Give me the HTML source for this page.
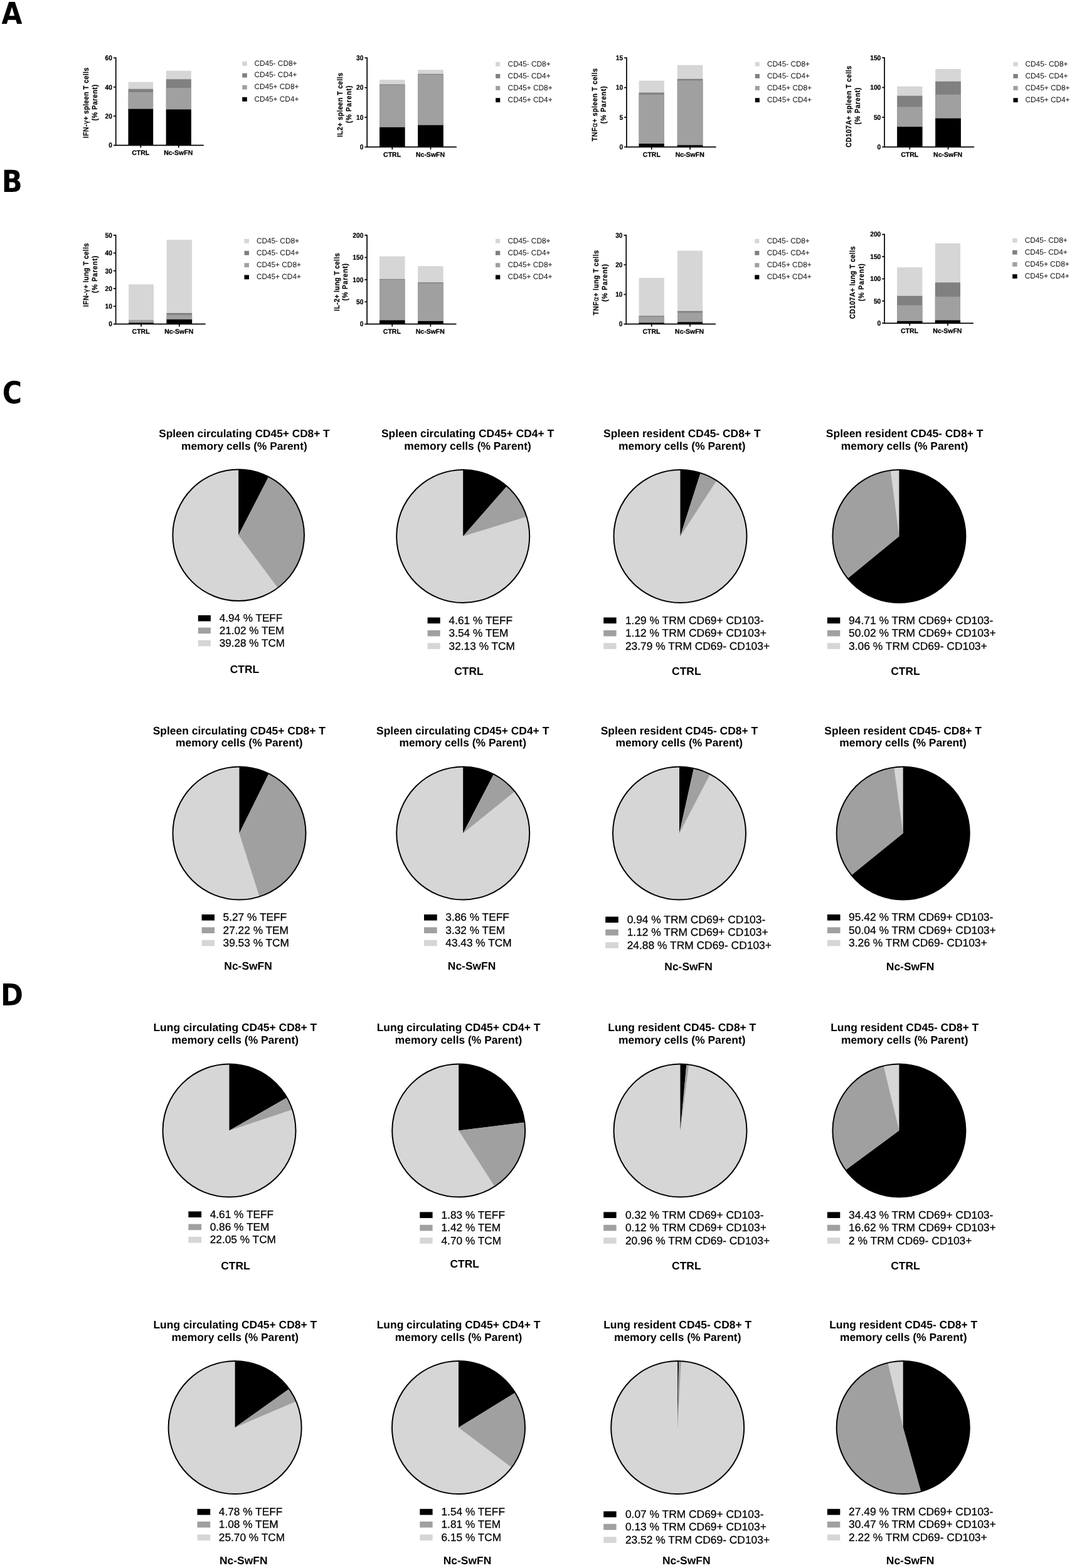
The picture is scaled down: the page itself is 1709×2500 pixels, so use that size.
<!DOCTYPE html>
<html lang="en">
<head>
<meta charset="utf-8">
<title>T cell cytokine and memory subsets</title>
<style>
html,body{margin:0;padding:0;background:#fff;}
body{width:1709px;height:2500px;overflow:hidden;}
svg{display:block;font-family:"Liberation Sans",sans-serif;}
svg text{white-space:pre;text-rendering:geometricPrecision;}
</style>
</head>
<body>
<svg width="1709" height="2500" viewBox="0 0 1709 2500">
<rect width="1709" height="2500" fill="#fff"/>
<text transform="translate(2.56,38.10) scale(0.9091,0.9220)" x="0" y="0" font-family="'DejaVu Sans Condensed','DejaVu Sans',sans-serif" font-size="52" font-weight="bold" fill="#000">A</text>
<text transform="translate(2.84,305.70) scale(0.9224,0.9299)" x="0" y="0" font-family="'DejaVu Sans Condensed','DejaVu Sans',sans-serif" font-size="52" font-weight="bold" fill="#000">B</text>
<text transform="translate(3.87,643.17) scale(0.9107,0.9342)" x="0" y="0" font-family="'DejaVu Sans Condensed','DejaVu Sans',sans-serif" font-size="52" font-weight="bold" fill="#000">C</text>
<text transform="translate(1.03,1603.30) scale(0.9249,0.9247)" x="0" y="0" font-family="'DejaVu Sans Condensed','DejaVu Sans',sans-serif" font-size="52" font-weight="bold" fill="#000">D</text>
<rect x="204.60" y="130.70" width="39.50" height="100.90" fill="#d6d6d6"/>
<rect x="204.60" y="141.80" width="39.50" height="89.80" fill="#808080"/>
<rect x="204.60" y="147.00" width="39.50" height="84.60" fill="#a0a0a0"/>
<rect x="204.60" y="173.70" width="39.50" height="57.90" fill="#000000"/>
<rect x="264.80" y="112.80" width="40.00" height="118.80" fill="#d6d6d6"/>
<rect x="264.80" y="126.30" width="40.00" height="105.30" fill="#808080"/>
<rect x="264.80" y="140.00" width="40.00" height="91.60" fill="#a0a0a0"/>
<rect x="264.80" y="174.50" width="40.00" height="57.10" fill="#000000"/>
<path d="M184.70 91.45V231.60H324.80" fill="none" stroke="#000" stroke-width="1.7" stroke-linejoin="miter"/>
<path d="M180.90 92.30H184.70" stroke="#000" stroke-width="1.7"/>
<text transform="translate(179.00,96.08) scale(0.93,1)" font-size="11.0" font-weight="bold" text-anchor="end" fill="#000" stroke="#000" stroke-width="0.2">60</text>
<path d="M180.90 138.73H184.70" stroke="#000" stroke-width="1.7"/>
<text transform="translate(179.00,142.52) scale(0.93,1)" font-size="11.0" font-weight="bold" text-anchor="end" fill="#000" stroke="#000" stroke-width="0.2">40</text>
<path d="M180.90 185.17H184.70" stroke="#000" stroke-width="1.7"/>
<text transform="translate(179.00,188.95) scale(0.93,1)" font-size="11.0" font-weight="bold" text-anchor="end" fill="#000" stroke="#000" stroke-width="0.2">20</text>
<path d="M180.90 231.60H184.70" stroke="#000" stroke-width="1.7"/>
<text transform="translate(179.00,235.38) scale(0.93,1)" font-size="11.0" font-weight="bold" text-anchor="end" fill="#000" stroke="#000" stroke-width="0.2">0</text>
<path d="M224.35 231.60V235.60" stroke="#000" stroke-width="1.7"/>
<text x="224.20" y="247.01" font-size="10.5" font-weight="bold" text-anchor="middle" fill="#000" stroke="#000" stroke-width="0.25">CTRL</text>
<path d="M284.80 231.60V235.60" stroke="#000" stroke-width="1.7"/>
<text x="284.20" y="247.01" font-size="10.5" font-weight="bold" text-anchor="middle" fill="#000" stroke="#000" stroke-width="0.25">Nc-SwFN</text>
<text transform="translate(141.13,164.00) rotate(-90) scale(0.9,1)" x="0" y="0" font-size="12.0" textLength="125.0" lengthAdjust="spacing" font-weight="bold" text-anchor="middle" fill="#000" stroke="#000" stroke-width="0.2">IFN-<tspan font-weight="normal" font-family="'DejaVu Sans','Liberation Sans',sans-serif" font-size="12.0">γ</tspan>+ spleen T cells</text>
<text transform="translate(155.33,163.80) rotate(-90) scale(0.9,1)" x="0" y="0" font-size="12.0" textLength="64.0" lengthAdjust="spacing" font-weight="bold" text-anchor="middle" fill="#000" stroke="#000" stroke-width="0.2">(% Parent)</text>
<rect x="386.20" y="98.05" width="7.60" height="6.90" fill="#d6d6d6"/>
<text transform="translate(405.40,104.70) scale(0.97,1)" font-size="12.2" fill="#111">CD45- CD8+</text>
<rect x="386.20" y="116.75" width="7.60" height="6.90" fill="#808080"/>
<text transform="translate(405.40,123.40) scale(0.97,1)" font-size="12.2" fill="#111">CD45- CD4+</text>
<rect x="386.20" y="135.75" width="7.60" height="6.90" fill="#a0a0a0"/>
<text transform="translate(405.40,142.40) scale(0.97,1)" font-size="12.2" fill="#111">CD45+ CD8+</text>
<rect x="386.20" y="154.85" width="7.60" height="6.90" fill="#000000"/>
<text transform="translate(405.40,161.50) scale(0.97,1)" font-size="12.2" fill="#111">CD45+ CD4+</text>
<rect x="605.10" y="127.20" width="40.40" height="107.20" fill="#d6d6d6"/>
<rect x="605.10" y="134.50" width="40.40" height="99.90" fill="#808080"/>
<rect x="605.10" y="135.60" width="40.40" height="98.80" fill="#a0a0a0"/>
<rect x="605.10" y="202.90" width="40.40" height="31.50" fill="#000000"/>
<rect x="666.20" y="111.30" width="40.60" height="123.10" fill="#d6d6d6"/>
<rect x="666.20" y="117.90" width="40.60" height="116.50" fill="#808080"/>
<rect x="666.20" y="119.00" width="40.60" height="115.40" fill="#a0a0a0"/>
<rect x="666.20" y="199.50" width="40.60" height="34.90" fill="#000000"/>
<path d="M585.20 91.45V234.40H727.90" fill="none" stroke="#000" stroke-width="1.7" stroke-linejoin="miter"/>
<path d="M581.40 92.30H585.20" stroke="#000" stroke-width="1.7"/>
<text transform="translate(579.50,96.08) scale(0.93,1)" font-size="11.0" font-weight="bold" text-anchor="end" fill="#000" stroke="#000" stroke-width="0.2">30</text>
<path d="M581.40 139.67H585.20" stroke="#000" stroke-width="1.7"/>
<text transform="translate(579.50,143.45) scale(0.93,1)" font-size="11.0" font-weight="bold" text-anchor="end" fill="#000" stroke="#000" stroke-width="0.2">20</text>
<path d="M581.40 187.03H585.20" stroke="#000" stroke-width="1.7"/>
<text transform="translate(579.50,190.82) scale(0.93,1)" font-size="11.0" font-weight="bold" text-anchor="end" fill="#000" stroke="#000" stroke-width="0.2">10</text>
<path d="M581.40 234.40H585.20" stroke="#000" stroke-width="1.7"/>
<text transform="translate(579.50,238.18) scale(0.93,1)" font-size="11.0" font-weight="bold" text-anchor="end" fill="#000" stroke="#000" stroke-width="0.2">0</text>
<path d="M625.30 234.40V238.40" stroke="#000" stroke-width="1.7"/>
<text x="625.10" y="249.81" font-size="10.5" font-weight="bold" text-anchor="middle" fill="#000" stroke="#000" stroke-width="0.25">CTRL</text>
<path d="M686.50 234.40V238.40" stroke="#000" stroke-width="1.7"/>
<text x="686.00" y="249.81" font-size="10.5" font-weight="bold" text-anchor="middle" fill="#000" stroke="#000" stroke-width="0.25">Nc-SwFN</text>
<text transform="translate(545.63,167.30) rotate(-90) scale(0.9,1)" x="0" y="0" font-size="12.0" textLength="113.9" lengthAdjust="spacing" font-weight="bold" text-anchor="middle" fill="#000" stroke="#000" stroke-width="0.2">IL2+ spleen T cells</text>
<text transform="translate(560.03,166.50) rotate(-90) scale(0.9,1)" x="0" y="0" font-size="12.0" textLength="66.3" lengthAdjust="spacing" font-weight="bold" text-anchor="middle" fill="#000" stroke="#000" stroke-width="0.2">(% Parent)</text>
<rect x="790.20" y="98.85" width="7.10" height="6.90" fill="#d6d6d6"/>
<text transform="translate(809.60,105.50) scale(0.97,1)" font-size="12.2" fill="#111">CD45- CD8+</text>
<rect x="790.20" y="117.95" width="7.10" height="6.90" fill="#808080"/>
<text transform="translate(809.60,124.60) scale(0.97,1)" font-size="12.2" fill="#111">CD45- CD4+</text>
<rect x="790.20" y="137.05" width="7.10" height="6.90" fill="#a0a0a0"/>
<text transform="translate(809.60,143.70) scale(0.97,1)" font-size="12.2" fill="#111">CD45+ CD8+</text>
<rect x="790.20" y="156.25" width="7.10" height="6.90" fill="#000000"/>
<text transform="translate(809.60,162.90) scale(0.97,1)" font-size="12.2" fill="#111">CD45+ CD4+</text>
<rect x="1018.60" y="128.60" width="40.30" height="105.80" fill="#d6d6d6"/>
<rect x="1018.60" y="147.60" width="40.30" height="86.80" fill="#808080"/>
<rect x="1018.60" y="150.70" width="40.30" height="83.70" fill="#a0a0a0"/>
<rect x="1018.60" y="229.10" width="40.30" height="5.30" fill="#000000"/>
<rect x="1079.80" y="103.70" width="40.60" height="130.70" fill="#d6d6d6"/>
<rect x="1079.80" y="125.80" width="40.60" height="108.60" fill="#808080"/>
<rect x="1079.80" y="128.30" width="40.60" height="106.10" fill="#a0a0a0"/>
<rect x="1079.80" y="231.40" width="40.60" height="3.00" fill="#000000"/>
<path d="M998.90 91.45V234.40H1141.60" fill="none" stroke="#000" stroke-width="1.7" stroke-linejoin="miter"/>
<path d="M995.10 92.30H998.90" stroke="#000" stroke-width="1.7"/>
<text transform="translate(993.20,96.08) scale(0.93,1)" font-size="11.0" font-weight="bold" text-anchor="end" fill="#000" stroke="#000" stroke-width="0.2">15</text>
<path d="M995.10 139.67H998.90" stroke="#000" stroke-width="1.7"/>
<text transform="translate(993.20,143.45) scale(0.93,1)" font-size="11.0" font-weight="bold" text-anchor="end" fill="#000" stroke="#000" stroke-width="0.2">10</text>
<path d="M995.10 187.03H998.90" stroke="#000" stroke-width="1.7"/>
<text transform="translate(993.20,190.82) scale(0.93,1)" font-size="11.0" font-weight="bold" text-anchor="end" fill="#000" stroke="#000" stroke-width="0.2">5</text>
<path d="M995.10 234.40H998.90" stroke="#000" stroke-width="1.7"/>
<text transform="translate(993.20,238.18) scale(0.93,1)" font-size="11.0" font-weight="bold" text-anchor="end" fill="#000" stroke="#000" stroke-width="0.2">0</text>
<path d="M1038.75 234.40V238.40" stroke="#000" stroke-width="1.7"/>
<text x="1038.80" y="249.81" font-size="10.5" font-weight="bold" text-anchor="middle" fill="#000" stroke="#000" stroke-width="0.25">CTRL</text>
<path d="M1100.10 234.40V238.40" stroke="#000" stroke-width="1.7"/>
<text x="1099.70" y="249.81" font-size="10.5" font-weight="bold" text-anchor="middle" fill="#000" stroke="#000" stroke-width="0.25">Nc-SwFN</text>
<text transform="translate(951.93,167.20) rotate(-90) scale(0.9,1)" x="0" y="0" font-size="12.0" textLength="129.2" lengthAdjust="spacing" font-weight="bold" text-anchor="middle" fill="#000" stroke="#000" stroke-width="0.2">TNF<tspan font-weight="normal" font-family="'DejaVu Sans','Liberation Sans',sans-serif" font-size="12.0">α</tspan>+ spleen T cells</text>
<text transform="translate(966.33,167.30) rotate(-90) scale(0.9,1)" x="0" y="0" font-size="12.0" textLength="66.3" lengthAdjust="spacing" font-weight="bold" text-anchor="middle" fill="#000" stroke="#000" stroke-width="0.2">(% Parent)</text>
<rect x="1203.80" y="98.85" width="7.10" height="6.90" fill="#d6d6d6"/>
<text transform="translate(1223.00,105.50) scale(0.97,1)" font-size="12.2" fill="#111">CD45- CD8+</text>
<rect x="1203.80" y="117.95" width="7.10" height="6.90" fill="#808080"/>
<text transform="translate(1223.00,124.60) scale(0.97,1)" font-size="12.2" fill="#111">CD45- CD4+</text>
<rect x="1203.80" y="137.05" width="7.10" height="6.90" fill="#a0a0a0"/>
<text transform="translate(1223.00,143.70) scale(0.97,1)" font-size="12.2" fill="#111">CD45+ CD8+</text>
<rect x="1203.80" y="156.25" width="7.10" height="6.90" fill="#000000"/>
<text transform="translate(1223.00,162.90) scale(0.97,1)" font-size="12.2" fill="#111">CD45+ CD4+</text>
<rect x="1430.20" y="137.80" width="40.20" height="96.60" fill="#d6d6d6"/>
<rect x="1430.20" y="152.70" width="40.20" height="81.70" fill="#808080"/>
<rect x="1430.20" y="170.40" width="40.20" height="64.00" fill="#a0a0a0"/>
<rect x="1430.20" y="202.10" width="40.20" height="32.30" fill="#000000"/>
<rect x="1491.20" y="110.00" width="40.60" height="124.40" fill="#d6d6d6"/>
<rect x="1491.20" y="129.80" width="40.60" height="104.60" fill="#808080"/>
<rect x="1491.20" y="150.80" width="40.60" height="83.60" fill="#a0a0a0"/>
<rect x="1491.20" y="188.70" width="40.60" height="45.70" fill="#000000"/>
<path d="M1410.00 91.25V234.40H1553.10" fill="none" stroke="#000" stroke-width="1.7" stroke-linejoin="miter"/>
<path d="M1406.20 92.10H1410.00" stroke="#000" stroke-width="1.7"/>
<text transform="translate(1404.30,95.88) scale(0.93,1)" font-size="11.0" font-weight="bold" text-anchor="end" fill="#000" stroke="#000" stroke-width="0.2">150</text>
<path d="M1406.20 139.53H1410.00" stroke="#000" stroke-width="1.7"/>
<text transform="translate(1404.30,143.32) scale(0.93,1)" font-size="11.0" font-weight="bold" text-anchor="end" fill="#000" stroke="#000" stroke-width="0.2">100</text>
<path d="M1406.20 186.97H1410.00" stroke="#000" stroke-width="1.7"/>
<text transform="translate(1404.30,190.75) scale(0.93,1)" font-size="11.0" font-weight="bold" text-anchor="end" fill="#000" stroke="#000" stroke-width="0.2">50</text>
<path d="M1406.20 234.40H1410.00" stroke="#000" stroke-width="1.7"/>
<text transform="translate(1404.30,238.18) scale(0.93,1)" font-size="11.0" font-weight="bold" text-anchor="end" fill="#000" stroke="#000" stroke-width="0.2">0</text>
<path d="M1450.30 234.40V238.40" stroke="#000" stroke-width="1.7"/>
<text x="1450.20" y="249.91" font-size="10.5" font-weight="bold" text-anchor="middle" fill="#000" stroke="#000" stroke-width="0.25">CTRL</text>
<path d="M1511.50 234.40V238.40" stroke="#000" stroke-width="1.7"/>
<text x="1511.10" y="249.91" font-size="10.5" font-weight="bold" text-anchor="middle" fill="#000" stroke="#000" stroke-width="0.25">Nc-SwFN</text>
<text transform="translate(1357.13,170.00) rotate(-90) scale(0.9,1)" x="0" y="0" font-size="12.0" textLength="144.4" lengthAdjust="spacing" font-weight="bold" text-anchor="middle" fill="#000" stroke="#000" stroke-width="0.2">CD107A+ spleen T cells</text>
<text transform="translate(1370.83,169.20) rotate(-90) scale(0.9,1)" x="0" y="0" font-size="12.0" textLength="65.4" lengthAdjust="spacing" font-weight="bold" text-anchor="middle" fill="#000" stroke="#000" stroke-width="0.2">(% Parent)</text>
<rect x="1615.40" y="98.85" width="7.30" height="6.90" fill="#d6d6d6"/>
<text transform="translate(1634.50,105.50) scale(0.97,1)" font-size="12.2" fill="#111">CD45- CD8+</text>
<rect x="1615.40" y="117.95" width="7.30" height="6.90" fill="#808080"/>
<text transform="translate(1634.50,124.60) scale(0.97,1)" font-size="12.2" fill="#111">CD45- CD4+</text>
<rect x="1615.40" y="137.05" width="7.30" height="6.90" fill="#a0a0a0"/>
<text transform="translate(1634.50,143.70) scale(0.97,1)" font-size="12.2" fill="#111">CD45+ CD8+</text>
<rect x="1615.40" y="156.25" width="7.30" height="6.90" fill="#000000"/>
<text transform="translate(1634.50,162.90) scale(0.97,1)" font-size="12.2" fill="#111">CD45+ CD4+</text>
<rect x="205.10" y="453.40" width="39.90" height="63.30" fill="#d6d6d6"/>
<rect x="205.10" y="510.10" width="39.90" height="6.60" fill="#a0a0a0"/>
<rect x="205.10" y="514.60" width="39.90" height="2.10" fill="#000000"/>
<rect x="265.60" y="382.30" width="40.50" height="134.40" fill="#d6d6d6"/>
<rect x="265.60" y="499.10" width="40.50" height="17.60" fill="#808080"/>
<rect x="265.60" y="502.20" width="40.50" height="14.50" fill="#a0a0a0"/>
<rect x="265.60" y="509.30" width="40.50" height="7.40" fill="#000000"/>
<path d="M184.60 374.25V516.70H327.60" fill="none" stroke="#000" stroke-width="1.7" stroke-linejoin="miter"/>
<path d="M180.80 375.10H184.60" stroke="#000" stroke-width="1.7"/>
<text transform="translate(178.90,378.88) scale(0.93,1)" font-size="11.0" font-weight="bold" text-anchor="end" fill="#000" stroke="#000" stroke-width="0.2">50</text>
<path d="M180.80 403.42H184.60" stroke="#000" stroke-width="1.7"/>
<text transform="translate(178.90,407.20) scale(0.93,1)" font-size="11.0" font-weight="bold" text-anchor="end" fill="#000" stroke="#000" stroke-width="0.2">40</text>
<path d="M180.80 431.74H184.60" stroke="#000" stroke-width="1.7"/>
<text transform="translate(178.90,435.52) scale(0.93,1)" font-size="11.0" font-weight="bold" text-anchor="end" fill="#000" stroke="#000" stroke-width="0.2">30</text>
<path d="M180.80 460.06H184.60" stroke="#000" stroke-width="1.7"/>
<text transform="translate(178.90,463.84) scale(0.93,1)" font-size="11.0" font-weight="bold" text-anchor="end" fill="#000" stroke="#000" stroke-width="0.2">20</text>
<path d="M180.80 488.38H184.60" stroke="#000" stroke-width="1.7"/>
<text transform="translate(178.90,492.16) scale(0.93,1)" font-size="11.0" font-weight="bold" text-anchor="end" fill="#000" stroke="#000" stroke-width="0.2">10</text>
<path d="M180.80 516.70H184.60" stroke="#000" stroke-width="1.7"/>
<text transform="translate(178.90,520.48) scale(0.93,1)" font-size="11.0" font-weight="bold" text-anchor="end" fill="#000" stroke="#000" stroke-width="0.2">0</text>
<path d="M225.05 516.70V520.70" stroke="#000" stroke-width="1.7"/>
<text x="224.60" y="531.61" font-size="10.5" font-weight="bold" text-anchor="middle" fill="#000" stroke="#000" stroke-width="0.25">CTRL</text>
<path d="M285.85 516.70V520.70" stroke="#000" stroke-width="1.7"/>
<text x="285.20" y="531.61" font-size="10.5" font-weight="bold" text-anchor="middle" fill="#000" stroke="#000" stroke-width="0.25">Nc-SwFN</text>
<text transform="translate(140.93,438.50) rotate(-90) scale(0.9,1)" x="0" y="0" font-size="12.0" textLength="112.7" lengthAdjust="spacing" font-weight="bold" text-anchor="middle" fill="#000" stroke="#000" stroke-width="0.2">IFN-<tspan font-weight="normal" font-family="'DejaVu Sans','Liberation Sans',sans-serif" font-size="12.0">γ</tspan>+ lung T cells</text>
<text transform="translate(154.83,437.60) rotate(-90) scale(0.9,1)" x="0" y="0" font-size="12.0" textLength="66.1" lengthAdjust="spacing" font-weight="bold" text-anchor="middle" fill="#000" stroke="#000" stroke-width="0.2">(% Parent)</text>
<rect x="389.50" y="380.85" width="7.50" height="6.90" fill="#d6d6d6"/>
<text transform="translate(408.90,387.50) scale(0.97,1)" font-size="12.2" fill="#111">CD45- CD8+</text>
<rect x="389.50" y="399.95" width="7.50" height="6.90" fill="#808080"/>
<text transform="translate(408.90,406.60) scale(0.97,1)" font-size="12.2" fill="#111">CD45- CD4+</text>
<rect x="389.50" y="419.35" width="7.50" height="6.90" fill="#a0a0a0"/>
<text transform="translate(408.90,426.00) scale(0.97,1)" font-size="12.2" fill="#111">CD45+ CD8+</text>
<rect x="389.50" y="438.45" width="7.50" height="6.90" fill="#000000"/>
<text transform="translate(408.90,445.10) scale(0.97,1)" font-size="12.2" fill="#111">CD45+ CD4+</text>
<rect x="605.00" y="408.70" width="40.50" height="108.00" fill="#d6d6d6"/>
<rect x="605.00" y="444.90" width="40.50" height="71.80" fill="#808080"/>
<rect x="605.00" y="445.90" width="40.50" height="70.80" fill="#a0a0a0"/>
<rect x="605.00" y="510.60" width="40.50" height="6.10" fill="#000000"/>
<rect x="666.10" y="424.30" width="40.60" height="92.40" fill="#d6d6d6"/>
<rect x="666.10" y="450.20" width="40.60" height="66.50" fill="#808080"/>
<rect x="666.10" y="451.70" width="40.60" height="65.00" fill="#a0a0a0"/>
<rect x="666.10" y="511.90" width="40.60" height="4.80" fill="#000000"/>
<path d="M585.10 374.25V516.70H727.50" fill="none" stroke="#000" stroke-width="1.7" stroke-linejoin="miter"/>
<path d="M581.30 375.10H585.10" stroke="#000" stroke-width="1.7"/>
<text transform="translate(579.40,378.88) scale(0.93,1)" font-size="11.0" font-weight="bold" text-anchor="end" fill="#000" stroke="#000" stroke-width="0.2">200</text>
<path d="M581.30 410.50H585.10" stroke="#000" stroke-width="1.7"/>
<text transform="translate(579.40,414.28) scale(0.93,1)" font-size="11.0" font-weight="bold" text-anchor="end" fill="#000" stroke="#000" stroke-width="0.2">150</text>
<path d="M581.30 445.90H585.10" stroke="#000" stroke-width="1.7"/>
<text transform="translate(579.40,449.68) scale(0.93,1)" font-size="11.0" font-weight="bold" text-anchor="end" fill="#000" stroke="#000" stroke-width="0.2">100</text>
<path d="M581.30 481.30H585.10" stroke="#000" stroke-width="1.7"/>
<text transform="translate(579.40,485.08) scale(0.93,1)" font-size="11.0" font-weight="bold" text-anchor="end" fill="#000" stroke="#000" stroke-width="0.2">50</text>
<path d="M581.30 516.70H585.10" stroke="#000" stroke-width="1.7"/>
<text transform="translate(579.40,520.48) scale(0.93,1)" font-size="11.0" font-weight="bold" text-anchor="end" fill="#000" stroke="#000" stroke-width="0.2">0</text>
<path d="M625.25 516.70V520.70" stroke="#000" stroke-width="1.7"/>
<text x="624.80" y="531.81" font-size="10.5" font-weight="bold" text-anchor="middle" fill="#000" stroke="#000" stroke-width="0.25">CTRL</text>
<path d="M686.40 516.70V520.70" stroke="#000" stroke-width="1.7"/>
<text x="685.80" y="531.81" font-size="10.5" font-weight="bold" text-anchor="middle" fill="#000" stroke="#000" stroke-width="0.25">Nc-SwFN</text>
<text transform="translate(540.63,449.80) rotate(-90) scale(0.9,1)" x="0" y="0" font-size="12.0" textLength="102.7" lengthAdjust="spacing" font-weight="bold" text-anchor="middle" fill="#000" stroke="#000" stroke-width="0.2">IL-2+ lung T cells</text>
<text transform="translate(554.43,449.80) rotate(-90) scale(0.9,1)" x="0" y="0" font-size="12.0" textLength="66.0" lengthAdjust="spacing" font-weight="bold" text-anchor="middle" fill="#000" stroke="#000" stroke-width="0.2">(% Parent)</text>
<rect x="790.00" y="380.85" width="7.30" height="6.90" fill="#d6d6d6"/>
<text transform="translate(809.40,387.50) scale(0.97,1)" font-size="12.2" fill="#111">CD45- CD8+</text>
<rect x="790.00" y="399.95" width="7.30" height="6.90" fill="#808080"/>
<text transform="translate(809.40,406.60) scale(0.97,1)" font-size="12.2" fill="#111">CD45- CD4+</text>
<rect x="790.00" y="419.35" width="7.30" height="6.90" fill="#a0a0a0"/>
<text transform="translate(809.40,426.00) scale(0.97,1)" font-size="12.2" fill="#111">CD45+ CD8+</text>
<rect x="790.00" y="438.45" width="7.30" height="6.90" fill="#000000"/>
<text transform="translate(809.40,445.10) scale(0.97,1)" font-size="12.2" fill="#111">CD45+ CD4+</text>
<rect x="1018.60" y="443.00" width="40.30" height="73.70" fill="#d6d6d6"/>
<rect x="1018.60" y="503.50" width="40.30" height="13.20" fill="#808080"/>
<rect x="1018.60" y="505.00" width="40.30" height="11.70" fill="#a0a0a0"/>
<rect x="1018.60" y="514.60" width="40.30" height="2.10" fill="#000000"/>
<rect x="1080.00" y="399.65" width="40.10" height="117.05" fill="#d6d6d6"/>
<rect x="1080.00" y="495.90" width="40.10" height="20.80" fill="#808080"/>
<rect x="1080.00" y="498.40" width="40.10" height="18.30" fill="#a0a0a0"/>
<rect x="1080.00" y="513.50" width="40.10" height="3.20" fill="#000000"/>
<path d="M998.25 374.25V516.70H1141.00" fill="none" stroke="#000" stroke-width="1.7" stroke-linejoin="miter"/>
<path d="M994.45 375.10H998.25" stroke="#000" stroke-width="1.7"/>
<text transform="translate(992.55,378.88) scale(0.93,1)" font-size="11.0" font-weight="bold" text-anchor="end" fill="#000" stroke="#000" stroke-width="0.2">30</text>
<path d="M994.45 422.30H998.25" stroke="#000" stroke-width="1.7"/>
<text transform="translate(992.55,426.08) scale(0.93,1)" font-size="11.0" font-weight="bold" text-anchor="end" fill="#000" stroke="#000" stroke-width="0.2">20</text>
<path d="M994.45 469.50H998.25" stroke="#000" stroke-width="1.7"/>
<text transform="translate(992.55,473.28) scale(0.93,1)" font-size="11.0" font-weight="bold" text-anchor="end" fill="#000" stroke="#000" stroke-width="0.2">10</text>
<path d="M994.45 516.70H998.25" stroke="#000" stroke-width="1.7"/>
<text transform="translate(992.55,520.48) scale(0.93,1)" font-size="11.0" font-weight="bold" text-anchor="end" fill="#000" stroke="#000" stroke-width="0.2">0</text>
<path d="M1038.75 516.70V520.70" stroke="#000" stroke-width="1.7"/>
<text x="1038.40" y="531.91" font-size="10.5" font-weight="bold" text-anchor="middle" fill="#000" stroke="#000" stroke-width="0.25">CTRL</text>
<path d="M1100.05 516.70V520.70" stroke="#000" stroke-width="1.7"/>
<text x="1099.10" y="531.91" font-size="10.5" font-weight="bold" text-anchor="middle" fill="#000" stroke="#000" stroke-width="0.25">Nc-SwFN</text>
<text transform="translate(953.73,450.90) rotate(-90) scale(0.9,1)" x="0" y="0" font-size="12.0" textLength="115.2" lengthAdjust="spacing" font-weight="bold" text-anchor="middle" fill="#000" stroke="#000" stroke-width="0.2">TNF<tspan font-weight="normal" font-family="'DejaVu Sans','Liberation Sans',sans-serif" font-size="12.0">α</tspan>+ lung T cells</text>
<text transform="translate(968.13,451.10) rotate(-90) scale(0.9,1)" x="0" y="0" font-size="12.0" textLength="66.3" lengthAdjust="spacing" font-weight="bold" text-anchor="middle" fill="#000" stroke="#000" stroke-width="0.2">(% Parent)</text>
<rect x="1203.30" y="380.85" width="7.10" height="6.90" fill="#d6d6d6"/>
<text transform="translate(1222.70,387.50) scale(0.97,1)" font-size="12.2" fill="#111">CD45- CD8+</text>
<rect x="1203.30" y="399.95" width="7.10" height="6.90" fill="#808080"/>
<text transform="translate(1222.70,406.60) scale(0.97,1)" font-size="12.2" fill="#111">CD45- CD4+</text>
<rect x="1203.30" y="419.35" width="7.10" height="6.90" fill="#a0a0a0"/>
<text transform="translate(1222.70,426.00) scale(0.97,1)" font-size="12.2" fill="#111">CD45+ CD8+</text>
<rect x="1203.30" y="438.45" width="7.10" height="6.90" fill="#000000"/>
<text transform="translate(1222.70,445.10) scale(0.97,1)" font-size="12.2" fill="#111">CD45+ CD4+</text>
<rect x="1430.10" y="426.30" width="40.30" height="89.00" fill="#d6d6d6"/>
<rect x="1430.10" y="471.80" width="40.30" height="43.50" fill="#808080"/>
<rect x="1430.10" y="486.70" width="40.30" height="28.60" fill="#a0a0a0"/>
<rect x="1430.10" y="511.90" width="40.30" height="3.40" fill="#000000"/>
<rect x="1490.80" y="388.00" width="40.20" height="127.30" fill="#d6d6d6"/>
<rect x="1490.80" y="450.40" width="40.20" height="64.90" fill="#808080"/>
<rect x="1490.80" y="473.10" width="40.20" height="42.20" fill="#a0a0a0"/>
<rect x="1490.80" y="510.60" width="40.20" height="4.70" fill="#000000"/>
<path d="M1410.00 372.85V515.30H1551.90" fill="none" stroke="#000" stroke-width="1.7" stroke-linejoin="miter"/>
<path d="M1406.20 373.70H1410.00" stroke="#000" stroke-width="1.7"/>
<text transform="translate(1404.30,377.48) scale(0.93,1)" font-size="11.0" font-weight="bold" text-anchor="end" fill="#000" stroke="#000" stroke-width="0.2">200</text>
<path d="M1406.20 409.10H1410.00" stroke="#000" stroke-width="1.7"/>
<text transform="translate(1404.30,412.88) scale(0.93,1)" font-size="11.0" font-weight="bold" text-anchor="end" fill="#000" stroke="#000" stroke-width="0.2">150</text>
<path d="M1406.20 444.50H1410.00" stroke="#000" stroke-width="1.7"/>
<text transform="translate(1404.30,448.28) scale(0.93,1)" font-size="11.0" font-weight="bold" text-anchor="end" fill="#000" stroke="#000" stroke-width="0.2">100</text>
<path d="M1406.20 479.90H1410.00" stroke="#000" stroke-width="1.7"/>
<text transform="translate(1404.30,483.68) scale(0.93,1)" font-size="11.0" font-weight="bold" text-anchor="end" fill="#000" stroke="#000" stroke-width="0.2">50</text>
<path d="M1406.20 515.30H1410.00" stroke="#000" stroke-width="1.7"/>
<text transform="translate(1404.30,519.08) scale(0.93,1)" font-size="11.0" font-weight="bold" text-anchor="end" fill="#000" stroke="#000" stroke-width="0.2">0</text>
<path d="M1450.25 515.30V519.30" stroke="#000" stroke-width="1.7"/>
<text x="1450.00" y="530.61" font-size="10.5" font-weight="bold" text-anchor="middle" fill="#000" stroke="#000" stroke-width="0.25">CTRL</text>
<path d="M1510.90 515.30V519.30" stroke="#000" stroke-width="1.7"/>
<text x="1510.40" y="530.61" font-size="10.5" font-weight="bold" text-anchor="middle" fill="#000" stroke="#000" stroke-width="0.25">Nc-SwFN</text>
<text transform="translate(1362.73,450.70) rotate(-90) scale(0.9,1)" x="0" y="0" font-size="12.0" textLength="128.7" lengthAdjust="spacing" font-weight="bold" text-anchor="middle" fill="#000" stroke="#000" stroke-width="0.2">CD107A+ lung T cells</text>
<text transform="translate(1377.13,450.40) rotate(-90) scale(0.9,1)" x="0" y="0" font-size="12.0" textLength="66.6" lengthAdjust="spacing" font-weight="bold" text-anchor="middle" fill="#000" stroke="#000" stroke-width="0.2">(% Parent)</text>
<rect x="1614.10" y="379.85" width="7.50" height="6.90" fill="#d6d6d6"/>
<text transform="translate(1633.70,386.50) scale(0.97,1)" font-size="12.2" fill="#111">CD45- CD8+</text>
<rect x="1614.10" y="398.95" width="7.50" height="6.90" fill="#808080"/>
<text transform="translate(1633.70,405.60) scale(0.97,1)" font-size="12.2" fill="#111">CD45- CD4+</text>
<rect x="1614.10" y="418.05" width="7.50" height="6.90" fill="#a0a0a0"/>
<text transform="translate(1633.70,424.70) scale(0.97,1)" font-size="12.2" fill="#111">CD45+ CD8+</text>
<rect x="1614.10" y="437.25" width="7.50" height="6.90" fill="#000000"/>
<text transform="translate(1633.70,443.90) scale(0.97,1)" font-size="12.2" fill="#111">CD45+ CD4+</text>
<circle cx="380.20" cy="853.30" r="104.80" fill="#d6d6d6"/>
<path d="M380.20 853.30L380.20 748.50A104.80 104.80 0 0 1 428.20 760.14Z" fill="#000000"/>
<path d="M380.20 853.30L428.20 760.14A104.80 104.80 0 0 1 442.91 937.27Z" fill="#a0a0a0"/>
<circle cx="380.20" cy="853.30" r="104.80" fill="none" stroke="#000" stroke-width="2.0"/>
<text x="389.40" y="696.90" font-size="17.28" font-weight="bold" text-anchor="middle" fill="#000">Spleen circulating CD45+ CD8+ T</text>
<text x="389.40" y="716.50" font-size="17.28" font-weight="bold" text-anchor="middle" fill="#000">memory cells (% Parent)</text>
<rect x="315.80" y="980.94" width="20.10" height="9.6" fill="#000000"/>
<text x="349.80" y="991.23" font-size="17.13" font-weight="normal" text-anchor="start" fill="#000" stroke="#000" stroke-width="0.25">4.94 % TEFF</text>
<rect x="315.80" y="1000.57" width="20.10" height="9.6" fill="#a0a0a0"/>
<text x="349.80" y="1010.87" font-size="17.13" font-weight="normal" text-anchor="start" fill="#000" stroke="#000" stroke-width="0.25">21.02 % TEM</text>
<rect x="315.80" y="1020.71" width="20.10" height="9.6" fill="#d6d6d6"/>
<text x="349.80" y="1031.01" font-size="17.13" font-weight="normal" text-anchor="start" fill="#000" stroke="#000" stroke-width="0.25">39.28 % TCM</text>
<text x="390.00" y="1072.50" font-size="17.45" font-weight="bold" text-anchor="middle" fill="#000">CTRL</text>
<circle cx="738.20" cy="855.00" r="106.00" fill="#d6d6d6"/>
<path d="M738.20 855.00L738.20 749.00A106.00 106.00 0 0 1 808.02 775.25Z" fill="#000000"/>
<path d="M738.20 855.00L808.02 775.25A106.00 106.00 0 0 1 839.48 823.73Z" fill="#a0a0a0"/>
<circle cx="738.20" cy="855.00" r="106.00" fill="none" stroke="#000" stroke-width="2.0"/>
<text x="745.60" y="696.90" font-size="17.45" font-weight="bold" text-anchor="middle" fill="#000">Spleen circulating CD45+ CD4+ T</text>
<text x="745.60" y="716.50" font-size="17.45" font-weight="bold" text-anchor="middle" fill="#000">memory cells (% Parent)</text>
<rect x="681.60" y="984.46" width="20.10" height="9.6" fill="#000000"/>
<text x="715.60" y="994.81" font-size="17.3" font-weight="normal" text-anchor="start" fill="#000" stroke="#000" stroke-width="0.25">4.61 % TEFF</text>
<rect x="681.60" y="1004.85" width="20.10" height="9.6" fill="#a0a0a0"/>
<text x="715.60" y="1015.21" font-size="17.3" font-weight="normal" text-anchor="start" fill="#000" stroke="#000" stroke-width="0.25">3.54 % TEM</text>
<rect x="681.60" y="1025.24" width="20.10" height="9.6" fill="#d6d6d6"/>
<text x="715.60" y="1035.60" font-size="17.3" font-weight="normal" text-anchor="start" fill="#000" stroke="#000" stroke-width="0.25">32.13 % TCM</text>
<text x="747.50" y="1076.30" font-size="17.45" font-weight="bold" text-anchor="middle" fill="#000">CTRL</text>
<circle cx="1084.50" cy="855.00" r="106.00" fill="#d6d6d6"/>
<path d="M1084.50 855.00L1084.50 749.00A106.00 106.00 0 0 1 1116.77 754.03Z" fill="#000000"/>
<path d="M1084.50 855.00L1116.77 754.03A106.00 106.00 0 0 1 1142.41 766.22Z" fill="#a0a0a0"/>
<circle cx="1084.50" cy="855.00" r="106.00" fill="none" stroke="#000" stroke-width="2.0"/>
<text x="1087.30" y="696.90" font-size="17.45" font-weight="bold" text-anchor="middle" fill="#000">Spleen resident CD45- CD8+ T</text>
<text x="1087.30" y="716.50" font-size="17.45" font-weight="bold" text-anchor="middle" fill="#000">memory cells (% Parent)</text>
<rect x="962.20" y="984.46" width="20.40" height="9.6" fill="#000000"/>
<text x="996.90" y="994.85" font-size="17.4" font-weight="normal" text-anchor="start" fill="#000" stroke="#000" stroke-width="0.25">1.29 % TRM CD69+ CD103-</text>
<rect x="962.20" y="1004.85" width="20.40" height="9.6" fill="#a0a0a0"/>
<text x="996.90" y="1015.24" font-size="17.4" font-weight="normal" text-anchor="start" fill="#000" stroke="#000" stroke-width="0.25">1.12 % TRM CD69+ CD103+</text>
<rect x="962.20" y="1025.24" width="20.40" height="9.6" fill="#d6d6d6"/>
<text x="996.90" y="1035.63" font-size="17.4" font-weight="normal" text-anchor="start" fill="#000" stroke="#000" stroke-width="0.25">23.79 % TRM CD69- CD103+</text>
<text x="1094.30" y="1076.30" font-size="17.45" font-weight="bold" text-anchor="middle" fill="#000">CTRL</text>
<circle cx="1433.40" cy="855.00" r="106.00" fill="#d6d6d6"/>
<path d="M1433.40 855.00L1433.40 749.00A106.00 106.00 0 1 1 1351.37 922.13Z" fill="#000000"/>
<path d="M1433.40 855.00L1351.37 922.13A106.00 106.00 0 0 1 1419.65 749.90Z" fill="#a0a0a0"/>
<circle cx="1433.40" cy="855.00" r="106.00" fill="none" stroke="#000" stroke-width="2.0"/>
<text x="1442.10" y="696.90" font-size="17.45" font-weight="bold" text-anchor="middle" fill="#000">Spleen resident CD45- CD8+ T</text>
<text x="1442.10" y="716.50" font-size="17.45" font-weight="bold" text-anchor="middle" fill="#000">memory cells (% Parent)</text>
<rect x="1318.90" y="984.46" width="20.40" height="9.6" fill="#000000"/>
<text x="1353.10" y="994.85" font-size="17.4" font-weight="normal" text-anchor="start" fill="#000" stroke="#000" stroke-width="0.25">94.71 % TRM CD69+ CD103-</text>
<rect x="1318.90" y="1004.85" width="20.40" height="9.6" fill="#a0a0a0"/>
<text x="1353.10" y="1015.24" font-size="17.4" font-weight="normal" text-anchor="start" fill="#000" stroke="#000" stroke-width="0.25">50.02 % TRM CD69+ CD103+</text>
<rect x="1318.90" y="1025.24" width="20.40" height="9.6" fill="#d6d6d6"/>
<text x="1353.10" y="1035.63" font-size="17.4" font-weight="normal" text-anchor="start" fill="#000" stroke="#000" stroke-width="0.25">3.06 % TRM CD69- CD103+</text>
<text x="1443.50" y="1076.30" font-size="17.45" font-weight="bold" text-anchor="middle" fill="#000">CTRL</text>
<circle cx="381.50" cy="1328.50" r="106.00" fill="#d6d6d6"/>
<path d="M381.50 1328.50L381.50 1222.50A106.00 106.00 0 0 1 428.54 1233.51Z" fill="#000000"/>
<path d="M381.50 1328.50L428.54 1233.51A106.00 106.00 0 0 1 413.54 1429.54Z" fill="#a0a0a0"/>
<circle cx="381.50" cy="1328.50" r="106.00" fill="none" stroke="#000" stroke-width="2.0"/>
<text x="381.30" y="1170.70" font-size="17.45" font-weight="bold" text-anchor="middle" fill="#000">Spleen circulating CD45+ CD8+ T</text>
<text x="381.30" y="1190.30" font-size="17.45" font-weight="bold" text-anchor="middle" fill="#000">memory cells (% Parent)</text>
<rect x="321.60" y="1457.99" width="20.40" height="9.6" fill="#000000"/>
<text x="355.60" y="1468.34" font-size="17.3" font-weight="normal" text-anchor="start" fill="#000" stroke="#000" stroke-width="0.25">5.27 % TEFF</text>
<rect x="321.60" y="1478.38" width="20.40" height="9.6" fill="#a0a0a0"/>
<text x="355.60" y="1488.73" font-size="17.3" font-weight="normal" text-anchor="start" fill="#000" stroke="#000" stroke-width="0.25">27.22 % TEM</text>
<rect x="321.60" y="1498.77" width="20.40" height="9.6" fill="#d6d6d6"/>
<text x="355.60" y="1509.12" font-size="17.3" font-weight="normal" text-anchor="start" fill="#000" stroke="#000" stroke-width="0.25">39.53 % TCM</text>
<text x="395.60" y="1546.30" font-size="17.45" font-weight="bold" text-anchor="middle" fill="#000">Nc-SwFN</text>
<circle cx="738.20" cy="1328.50" r="106.00" fill="#d6d6d6"/>
<path d="M738.20 1328.50L738.20 1222.50A106.00 106.00 0 0 1 787.07 1234.44Z" fill="#000000"/>
<path d="M738.20 1328.50L787.07 1234.44A106.00 106.00 0 0 1 820.66 1261.90Z" fill="#a0a0a0"/>
<circle cx="738.20" cy="1328.50" r="106.00" fill="none" stroke="#000" stroke-width="2.0"/>
<text x="737.70" y="1170.70" font-size="17.45" font-weight="bold" text-anchor="middle" fill="#000">Spleen circulating CD45+ CD4+ T</text>
<text x="737.70" y="1190.30" font-size="17.45" font-weight="bold" text-anchor="middle" fill="#000">memory cells (% Parent)</text>
<rect x="676.00" y="1457.99" width="20.70" height="9.6" fill="#000000"/>
<text x="710.30" y="1468.34" font-size="17.3" font-weight="normal" text-anchor="start" fill="#000" stroke="#000" stroke-width="0.25">3.86 % TEFF</text>
<rect x="676.00" y="1478.38" width="20.70" height="9.6" fill="#a0a0a0"/>
<text x="710.30" y="1488.73" font-size="17.3" font-weight="normal" text-anchor="start" fill="#000" stroke="#000" stroke-width="0.25">3.32 % TEM</text>
<rect x="676.00" y="1498.77" width="20.70" height="9.6" fill="#d6d6d6"/>
<text x="710.30" y="1509.12" font-size="17.3" font-weight="normal" text-anchor="start" fill="#000" stroke="#000" stroke-width="0.25">43.43 % TCM</text>
<text x="752.10" y="1546.30" font-size="17.45" font-weight="bold" text-anchor="middle" fill="#000">Nc-SwFN</text>
<circle cx="1083.00" cy="1328.50" r="106.00" fill="#d6d6d6"/>
<path d="M1083.00 1328.50L1083.00 1222.50A106.00 106.00 0 0 1 1106.05 1225.04Z" fill="#000000"/>
<path d="M1083.00 1328.50L1106.05 1225.04A106.00 106.00 0 0 1 1131.99 1234.50Z" fill="#a0a0a0"/>
<circle cx="1083.00" cy="1328.50" r="106.00" fill="none" stroke="#000" stroke-width="2.0"/>
<text x="1082.90" y="1170.70" font-size="17.45" font-weight="bold" text-anchor="middle" fill="#000">Spleen resident CD45- CD8+ T</text>
<text x="1082.90" y="1190.30" font-size="17.45" font-weight="bold" text-anchor="middle" fill="#000">memory cells (% Parent)</text>
<rect x="965.20" y="1461.51" width="20.60" height="9.6" fill="#000000"/>
<text x="999.70" y="1471.90" font-size="17.4" font-weight="normal" text-anchor="start" fill="#000" stroke="#000" stroke-width="0.25">0.94 % TRM CD69+ CD103-</text>
<rect x="965.20" y="1481.90" width="20.60" height="9.6" fill="#a0a0a0"/>
<text x="999.70" y="1492.29" font-size="17.4" font-weight="normal" text-anchor="start" fill="#000" stroke="#000" stroke-width="0.25">1.12 % TRM CD69+ CD103+</text>
<rect x="965.20" y="1502.29" width="20.60" height="9.6" fill="#d6d6d6"/>
<text x="999.70" y="1512.68" font-size="17.4" font-weight="normal" text-anchor="start" fill="#000" stroke="#000" stroke-width="0.25">24.88 % TRM CD69- CD103+</text>
<text x="1097.60" y="1546.80" font-size="17.45" font-weight="bold" text-anchor="middle" fill="#000">Nc-SwFN</text>
<circle cx="1439.70" cy="1328.50" r="106.00" fill="#d6d6d6"/>
<path d="M1439.70 1328.50L1439.70 1222.50A106.00 106.00 0 1 1 1357.35 1395.24Z" fill="#000000"/>
<path d="M1439.70 1328.50L1357.35 1395.24A106.00 106.00 0 0 1 1425.15 1223.50Z" fill="#a0a0a0"/>
<circle cx="1439.70" cy="1328.50" r="106.00" fill="none" stroke="#000" stroke-width="2.0"/>
<text x="1439.60" y="1170.70" font-size="17.45" font-weight="bold" text-anchor="middle" fill="#000">Spleen resident CD45- CD8+ T</text>
<text x="1439.60" y="1190.30" font-size="17.45" font-weight="bold" text-anchor="middle" fill="#000">memory cells (% Parent)</text>
<rect x="1318.90" y="1457.99" width="20.60" height="9.6" fill="#000000"/>
<text x="1353.10" y="1468.37" font-size="17.4" font-weight="normal" text-anchor="start" fill="#000" stroke="#000" stroke-width="0.25">95.42 % TRM CD69+ CD103-</text>
<rect x="1318.90" y="1478.38" width="20.60" height="9.6" fill="#a0a0a0"/>
<text x="1353.10" y="1488.76" font-size="17.4" font-weight="normal" text-anchor="start" fill="#000" stroke="#000" stroke-width="0.25">50.04 % TRM CD69+ CD103+</text>
<rect x="1318.90" y="1498.77" width="20.60" height="9.6" fill="#d6d6d6"/>
<text x="1353.10" y="1509.15" font-size="17.4" font-weight="normal" text-anchor="start" fill="#000" stroke="#000" stroke-width="0.25">3.26 % TRM CD69- CD103+</text>
<text x="1451.10" y="1546.80" font-size="17.45" font-weight="bold" text-anchor="middle" fill="#000">Nc-SwFN</text>
<circle cx="365.50" cy="1802.60" r="106.00" fill="#d6d6d6"/>
<path d="M365.50 1802.60L365.50 1696.60A106.00 106.00 0 0 1 457.58 1750.09Z" fill="#000000"/>
<path d="M365.50 1802.60L457.58 1750.09A106.00 106.00 0 0 1 466.05 1769.06Z" fill="#a0a0a0"/>
<circle cx="365.50" cy="1802.60" r="106.00" fill="none" stroke="#000" stroke-width="2.0"/>
<text x="374.80" y="1644.40" font-size="17.45" font-weight="bold" text-anchor="middle" fill="#000">Lung circulating CD45+ CD8+ T</text>
<text x="374.80" y="1664.00" font-size="17.45" font-weight="bold" text-anchor="middle" fill="#000">memory cells (% Parent)</text>
<rect x="300.40" y="1931.44" width="20.70" height="9.6" fill="#000000"/>
<text x="334.70" y="1941.79" font-size="17.3" font-weight="normal" text-anchor="start" fill="#000" stroke="#000" stroke-width="0.25">4.61 % TEFF</text>
<rect x="300.40" y="1951.58" width="20.70" height="9.6" fill="#a0a0a0"/>
<text x="334.70" y="1961.93" font-size="17.3" font-weight="normal" text-anchor="start" fill="#000" stroke="#000" stroke-width="0.25">0.86 % TEM</text>
<rect x="300.40" y="1971.97" width="20.70" height="9.6" fill="#d6d6d6"/>
<text x="334.70" y="1982.32" font-size="17.3" font-weight="normal" text-anchor="start" fill="#000" stroke="#000" stroke-width="0.25">22.05 % TCM</text>
<text x="375.50" y="2023.80" font-size="17.45" font-weight="bold" text-anchor="middle" fill="#000">CTRL</text>
<circle cx="731.20" cy="1802.60" r="106.00" fill="#d6d6d6"/>
<path d="M731.20 1802.60L731.20 1696.60A106.00 106.00 0 0 1 836.38 1789.44Z" fill="#000000"/>
<path d="M731.20 1802.60L836.38 1789.44A106.00 106.00 0 0 1 788.67 1891.67Z" fill="#a0a0a0"/>
<circle cx="731.20" cy="1802.60" r="106.00" fill="none" stroke="#000" stroke-width="2.0"/>
<text x="731.00" y="1644.40" font-size="17.45" font-weight="bold" text-anchor="middle" fill="#000">Lung circulating CD45+ CD4+ T</text>
<text x="731.00" y="1664.00" font-size="17.45" font-weight="bold" text-anchor="middle" fill="#000">memory cells (% Parent)</text>
<rect x="669.30" y="1932.45" width="20.30" height="9.6" fill="#000000"/>
<text x="703.50" y="1942.80" font-size="17.3" font-weight="normal" text-anchor="start" fill="#000" stroke="#000" stroke-width="0.25">1.83 % TEFF</text>
<rect x="669.30" y="1952.84" width="20.30" height="9.6" fill="#a0a0a0"/>
<text x="703.50" y="1963.19" font-size="17.3" font-weight="normal" text-anchor="start" fill="#000" stroke="#000" stroke-width="0.25">1.42 % TEM</text>
<rect x="669.30" y="1973.23" width="20.30" height="9.6" fill="#d6d6d6"/>
<text x="703.50" y="1983.58" font-size="17.3" font-weight="normal" text-anchor="start" fill="#000" stroke="#000" stroke-width="0.25">4.70 % TCM</text>
<text x="740.70" y="2020.50" font-size="17.45" font-weight="bold" text-anchor="middle" fill="#000">CTRL</text>
<circle cx="1084.50" cy="1802.60" r="106.00" fill="#d6d6d6"/>
<path d="M1084.50 1802.60L1084.50 1696.60A106.00 106.00 0 0 1 1094.44 1697.07Z" fill="#000000"/>
<path d="M1084.50 1802.60L1094.44 1697.07A106.00 106.00 0 0 1 1098.16 1697.48Z" fill="#a0a0a0"/>
<circle cx="1084.50" cy="1802.60" r="106.00" fill="none" stroke="#000" stroke-width="2.0"/>
<text x="1087.30" y="1644.40" font-size="17.45" font-weight="bold" text-anchor="middle" fill="#000">Lung resident CD45- CD8+ T</text>
<text x="1087.30" y="1664.00" font-size="17.45" font-weight="bold" text-anchor="middle" fill="#000">memory cells (% Parent)</text>
<rect x="962.20" y="1932.45" width="20.40" height="9.6" fill="#000000"/>
<text x="996.90" y="1942.84" font-size="17.4" font-weight="normal" text-anchor="start" fill="#000" stroke="#000" stroke-width="0.25">0.32 % TRM CD69+ CD103-</text>
<rect x="962.20" y="1952.84" width="20.40" height="9.6" fill="#a0a0a0"/>
<text x="996.90" y="1963.23" font-size="17.4" font-weight="normal" text-anchor="start" fill="#000" stroke="#000" stroke-width="0.25">0.12 % TRM CD69+ CD103+</text>
<rect x="962.20" y="1973.23" width="20.40" height="9.6" fill="#d6d6d6"/>
<text x="996.90" y="1983.62" font-size="17.4" font-weight="normal" text-anchor="start" fill="#000" stroke="#000" stroke-width="0.25">20.96 % TRM CD69- CD103+</text>
<text x="1094.30" y="2023.80" font-size="17.45" font-weight="bold" text-anchor="middle" fill="#000">CTRL</text>
<circle cx="1433.40" cy="1802.60" r="106.00" fill="#d6d6d6"/>
<path d="M1433.40 1802.60L1433.40 1696.60A106.00 106.00 0 1 1 1348.03 1865.44Z" fill="#000000"/>
<path d="M1433.40 1802.60L1348.03 1865.44A106.00 106.00 0 0 1 1408.53 1699.56Z" fill="#a0a0a0"/>
<circle cx="1433.40" cy="1802.60" r="106.00" fill="none" stroke="#000" stroke-width="2.0"/>
<text x="1442.20" y="1644.40" font-size="17.45" font-weight="bold" text-anchor="middle" fill="#000">Lung resident CD45- CD8+ T</text>
<text x="1442.20" y="1664.00" font-size="17.45" font-weight="bold" text-anchor="middle" fill="#000">memory cells (% Parent)</text>
<rect x="1318.90" y="1932.45" width="20.40" height="9.6" fill="#000000"/>
<text x="1353.10" y="1942.84" font-size="17.4" font-weight="normal" text-anchor="start" fill="#000" stroke="#000" stroke-width="0.25">34.43 % TRM CD69+ CD103-</text>
<rect x="1318.90" y="1952.84" width="20.40" height="9.6" fill="#a0a0a0"/>
<text x="1353.10" y="1963.23" font-size="17.4" font-weight="normal" text-anchor="start" fill="#000" stroke="#000" stroke-width="0.25">16.62 % TRM CD69+ CD103+</text>
<rect x="1318.90" y="1973.23" width="20.40" height="9.6" fill="#d6d6d6"/>
<text x="1353.10" y="1983.62" font-size="17.4" font-weight="normal" text-anchor="start" fill="#000" stroke="#000" stroke-width="0.25">2 % TRM CD69- CD103+</text>
<text x="1443.50" y="2023.80" font-size="17.45" font-weight="bold" text-anchor="middle" fill="#000">CTRL</text>
<circle cx="374.60" cy="2276.00" r="106.00" fill="#d6d6d6"/>
<path d="M374.60 2276.00L374.60 2170.00A106.00 106.00 0 0 1 460.92 2214.48Z" fill="#000000"/>
<path d="M374.60 2276.00L460.92 2214.48A106.00 106.00 0 0 1 472.06 2234.32Z" fill="#a0a0a0"/>
<circle cx="374.60" cy="2276.00" r="106.00" fill="none" stroke="#000" stroke-width="2.0"/>
<text x="374.80" y="2118.20" font-size="17.45" font-weight="bold" text-anchor="middle" fill="#000">Lung circulating CD45+ CD8+ T</text>
<text x="374.80" y="2137.90" font-size="17.45" font-weight="bold" text-anchor="middle" fill="#000">memory cells (% Parent)</text>
<rect x="314.50" y="2405.79" width="20.70" height="9.6" fill="#000000"/>
<text x="348.80" y="2416.14" font-size="17.3" font-weight="normal" text-anchor="start" fill="#000" stroke="#000" stroke-width="0.25">4.78 % TEFF</text>
<rect x="314.50" y="2425.93" width="20.70" height="9.6" fill="#a0a0a0"/>
<text x="348.80" y="2436.28" font-size="17.3" font-weight="normal" text-anchor="start" fill="#000" stroke="#000" stroke-width="0.25">1.08 % TEM</text>
<rect x="314.50" y="2446.57" width="20.70" height="9.6" fill="#d6d6d6"/>
<text x="348.80" y="2456.92" font-size="17.3" font-weight="normal" text-anchor="start" fill="#000" stroke="#000" stroke-width="0.25">25.70 % TCM</text>
<text x="388.30" y="2494.40" font-size="17.45" font-weight="bold" text-anchor="middle" fill="#000">Nc-SwFN</text>
<circle cx="731.00" cy="2276.00" r="106.00" fill="#d6d6d6"/>
<path d="M731.00 2276.00L731.00 2170.00A106.00 106.00 0 0 1 821.24 2220.39Z" fill="#000000"/>
<path d="M731.00 2276.00L821.24 2220.39A106.00 106.00 0 0 1 815.71 2339.71Z" fill="#a0a0a0"/>
<circle cx="731.00" cy="2276.00" r="106.00" fill="none" stroke="#000" stroke-width="2.0"/>
<text x="731.00" y="2118.20" font-size="17.45" font-weight="bold" text-anchor="middle" fill="#000">Lung circulating CD45+ CD4+ T</text>
<text x="731.00" y="2137.90" font-size="17.45" font-weight="bold" text-anchor="middle" fill="#000">memory cells (% Parent)</text>
<rect x="669.30" y="2405.79" width="20.30" height="9.6" fill="#000000"/>
<text x="703.50" y="2416.14" font-size="17.3" font-weight="normal" text-anchor="start" fill="#000" stroke="#000" stroke-width="0.25">1.54 % TEFF</text>
<rect x="669.30" y="2425.93" width="20.30" height="9.6" fill="#a0a0a0"/>
<text x="703.50" y="2436.28" font-size="17.3" font-weight="normal" text-anchor="start" fill="#000" stroke="#000" stroke-width="0.25">1.81 % TEM</text>
<rect x="669.30" y="2446.57" width="20.30" height="9.6" fill="#d6d6d6"/>
<text x="703.50" y="2456.92" font-size="17.3" font-weight="normal" text-anchor="start" fill="#000" stroke="#000" stroke-width="0.25">6.15 % TCM</text>
<text x="745.00" y="2494.40" font-size="17.45" font-weight="bold" text-anchor="middle" fill="#000">Nc-SwFN</text>
<circle cx="1080.20" cy="2276.00" r="106.00" fill="#d6d6d6"/>
<path d="M1080.20 2276.00L1080.20 2170.00A106.00 106.00 0 0 1 1082.17 2170.02Z" fill="#000000"/>
<path d="M1080.20 2276.00L1082.17 2170.02A106.00 106.00 0 0 1 1085.81 2170.15Z" fill="#a0a0a0"/>
<circle cx="1080.20" cy="2276.00" r="106.00" fill="none" stroke="#000" stroke-width="2.0"/>
<text x="1080.20" y="2118.20" font-size="17.45" font-weight="bold" text-anchor="middle" fill="#000">Lung resident CD45- CD8+ T</text>
<text x="1080.20" y="2137.90" font-size="17.45" font-weight="bold" text-anchor="middle" fill="#000">memory cells (% Parent)</text>
<rect x="962.20" y="2409.57" width="20.40" height="9.6" fill="#000000"/>
<text x="996.90" y="2419.95" font-size="17.4" font-weight="normal" text-anchor="start" fill="#000" stroke="#000" stroke-width="0.25">0.07 % TRM CD69+ CD103-</text>
<rect x="962.20" y="2429.71" width="20.40" height="9.6" fill="#a0a0a0"/>
<text x="996.90" y="2440.09" font-size="17.4" font-weight="normal" text-anchor="start" fill="#000" stroke="#000" stroke-width="0.25">0.13 % TRM CD69+ CD103+</text>
<rect x="962.20" y="2450.35" width="20.40" height="9.6" fill="#d6d6d6"/>
<text x="996.90" y="2460.73" font-size="17.4" font-weight="normal" text-anchor="start" fill="#000" stroke="#000" stroke-width="0.25">23.52 % TRM CD69- CD103+</text>
<text x="1094.30" y="2494.40" font-size="17.45" font-weight="bold" text-anchor="middle" fill="#000">Nc-SwFN</text>
<circle cx="1439.70" cy="2276.00" r="106.00" fill="#d6d6d6"/>
<path d="M1439.70 2276.00L1439.70 2170.00A106.00 106.00 0 0 1 1468.12 2378.12Z" fill="#000000"/>
<path d="M1439.70 2276.00L1468.12 2378.12A106.00 106.00 0 1 1 1415.35 2172.83Z" fill="#a0a0a0"/>
<circle cx="1439.70" cy="2276.00" r="106.00" fill="none" stroke="#000" stroke-width="2.0"/>
<text x="1440.20" y="2118.20" font-size="17.45" font-weight="bold" text-anchor="middle" fill="#000">Lung resident CD45- CD8+ T</text>
<text x="1440.20" y="2137.90" font-size="17.45" font-weight="bold" text-anchor="middle" fill="#000">memory cells (% Parent)</text>
<rect x="1318.90" y="2405.79" width="20.40" height="9.6" fill="#000000"/>
<text x="1353.10" y="2416.18" font-size="17.4" font-weight="normal" text-anchor="start" fill="#000" stroke="#000" stroke-width="0.25">27.49 % TRM CD69+ CD103-</text>
<rect x="1318.90" y="2425.93" width="20.40" height="9.6" fill="#a0a0a0"/>
<text x="1353.10" y="2436.32" font-size="17.4" font-weight="normal" text-anchor="start" fill="#000" stroke="#000" stroke-width="0.25">30.47 % TRM CD69+ CD103+</text>
<rect x="1318.90" y="2446.57" width="20.40" height="9.6" fill="#d6d6d6"/>
<text x="1353.10" y="2456.96" font-size="17.4" font-weight="normal" text-anchor="start" fill="#000" stroke="#000" stroke-width="0.25">2.22 % TRM CD69- CD103+</text>
<text x="1451.10" y="2494.40" font-size="17.45" font-weight="bold" text-anchor="middle" fill="#000">Nc-SwFN</text>
</svg>
</body>
</html>
